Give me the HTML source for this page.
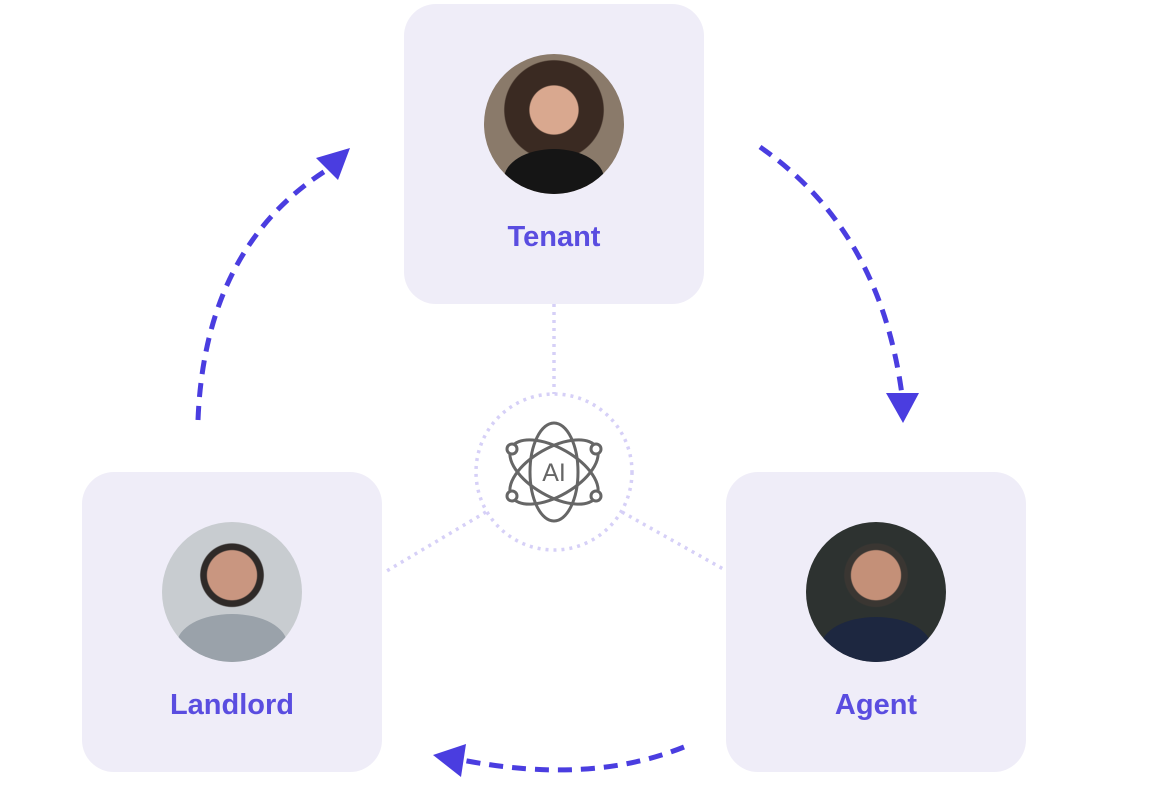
<!DOCTYPE html>
<html><head><style>
body{margin:0;width:1160px;height:800px;background:#fff;position:relative;overflow:hidden;font-family:"Liberation Sans",sans-serif}
.card{position:absolute;width:300px;height:300px;border-radius:32px;background:#efedf8}
.ph{position:absolute;left:80px;top:50px;width:140px;height:140px;border-radius:50%;overflow:hidden}
.lb{position:absolute;left:0;width:300px;text-align:center;top:217px;font-size:29px;font-weight:bold;color:#5a4de0}
</style></head><body>
<svg width="1160" height="800" style="position:absolute;left:0;top:0">
<g stroke="#d6d0f7" stroke-width="3.5" stroke-dasharray="3 5" fill="none">
<line x1="554" y1="304" x2="554" y2="394"/>
<line x1="486" y1="512" x2="385" y2="572"/>
<line x1="622" y1="512" x2="725" y2="570"/>
<circle cx="554" cy="472" r="78"/>
</g>
<g stroke="#4a3de0" stroke-width="5" stroke-dasharray="14 9" fill="none">
<path d="M198 420 Q205 245 330 168"/>
<path d="M760 147 Q880 230 902 395"/>
<path d="M684 747 Q590 785 462 760"/>
</g>
<g fill="#4a3de0">
<polygon points="350,148 316,158 338,180"/>
<polygon points="903,423 886,393 919,393"/>
<polygon points="433,755 466,744 461,777"/>
</g>
<g stroke="#666" stroke-width="3" fill="none">
<ellipse cx="554" cy="472" rx="24" ry="49"/>
<ellipse cx="554" cy="472" rx="24" ry="49" transform="rotate(60 554 472)"/>
<ellipse cx="554" cy="472" rx="24" ry="49" transform="rotate(-60 554 472)"/>
<circle cx="512" cy="449" r="5" fill="#fff"/><circle cx="596" cy="449" r="5" fill="#fff"/>
<circle cx="512" cy="496" r="5" fill="#fff"/><circle cx="596" cy="496" r="5" fill="#fff"/>
</g>
<text x="554" y="481" text-anchor="middle" font-family="Liberation Sans" font-size="25" fill="#666">AI</text>
</svg>
<div class="card" style="left:404px;top:4px"><div class="ph" style="background:radial-gradient(circle at 50% 40%,#d9a88f 0 22%,#3a2a22 23% 45%,#8a7a6a 46%);"><div style="position:absolute;left:20px;top:95px;width:100px;height:60px;border-radius:50% 50% 0 0;background:#151515"></div></div><div class="lb">Tenant</div></div>
<div class="card" style="left:82px;top:472px"><div class="ph" style="background:radial-gradient(circle at 50% 38%,#c99680 0 22%,#2f2a28 23% 28%,#c8ccd0 29%);"><div style="position:absolute;left:15px;top:92px;width:110px;height:60px;border-radius:50% 50% 0 0;background:#9aa2aa"></div></div><div class="lb">Landlord</div></div>
<div class="card" style="left:726px;top:472px"><div class="ph" style="background:radial-gradient(circle at 50% 38%,#c49078 0 22%,#3a3632 23% 28%,#2d3230 29%);"><div style="position:absolute;left:15px;top:95px;width:110px;height:60px;border-radius:50% 50% 0 0;background:#1d2740"></div></div><div class="lb">Agent</div></div>
</body></html>
